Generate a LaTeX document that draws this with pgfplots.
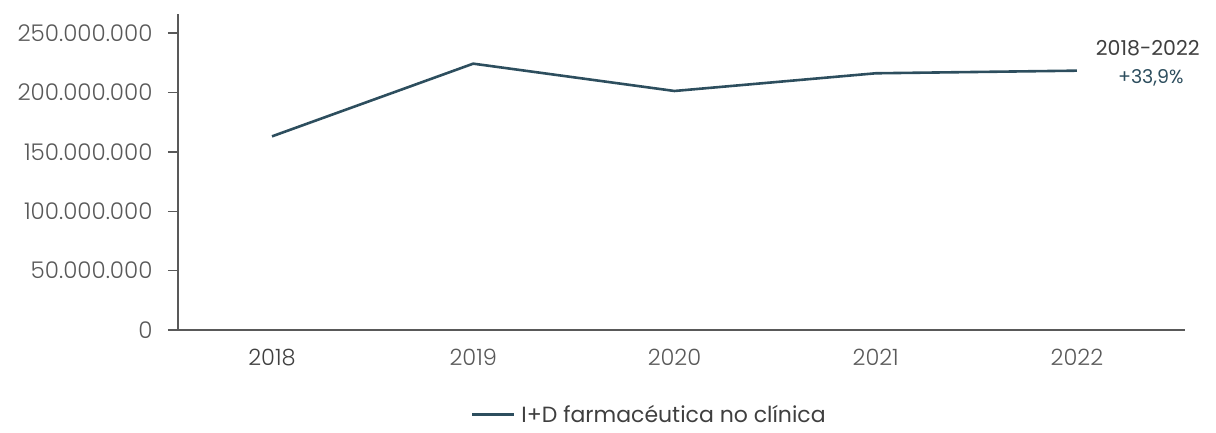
\documentclass[border=0pt]{standalone}
\usepackage{pgfplots}
\pgfplotsset{compat=1.18}
\usepackage{fontspec}
\setmainfont{Poppins}
\newfontfamily\lightfont{Poppins Light}
\definecolor{serie}{HTML}{2D4E5E}
\definecolor{ejes}{HTML}{595959}
\definecolor{texto}{HTML}{3F3F3F}
\begin{document}
\begin{tikzpicture}
\path[use as bounding box] (0,0) rectangle (1216pt,432pt);
\begin{axis}[
  scale only axis,
  width=1007pt, height=316pt,
  at={(178pt,102pt)}, anchor=south west,
  xmin=-0.467, xmax=4.537,
  ymin=0, ymax=266e6,
  axis x line*=bottom, axis y line*=left,
  axis line style={ejes, line width=1.4pt},
  xtick={0,1,2,3,4},
  xticklabels={{\color{texto}2018},2019,2020,2021,2022},
  x tick label style={font=\lightfont\fontsize{22.5}{26}\selectfont, text=ejes, yshift=-6pt},
  major x tick style={draw=none},
  ytick={0,50e6,100e6,150e6,200e6,250e6},
  yticklabels={0,50.000.000,100.000.000,150.000.000,200.000.000,250.000.000},
  y tick label style={font=\lightfont\fontsize{23}{26}\selectfont, text=ejes, xshift=-12pt},
  scaled y ticks=false,
  tick align=outside,
  major tick length=10pt,
  major y tick style={ejes, line width=1.4pt},
  legend style={at={(0.468,-0.268)}, anchor=center, draw=none, fill=none,
    font=\fontsize{22}{25}\selectfont, text=texto},
  legend cell align=left,
  legend image code/.code={\draw[serie, line width=2.6pt] (0pt,0pt) -- (42pt,0pt);},
  clip=false,
]
\addplot[serie, line width=2.6pt] coordinates {
  (0,163.0e6) (1,224.2e6) (2,201.2e6) (3,216.1e6) (4,218.3e6)
};
\addlegendentry{\hspace{4pt}I+D farmacéutica no clínica}
\node[font=\fontsize{20.5}{24}\selectfont, text=texto] at (rel axis cs:0.963,0.892) {2018-2022};
\node[font=\fontsize{19}{22}\selectfont, text=serie] at (rel axis cs:0.966,0.797) {+33,9\%};
\end{axis}
\end{tikzpicture}
\end{document}
